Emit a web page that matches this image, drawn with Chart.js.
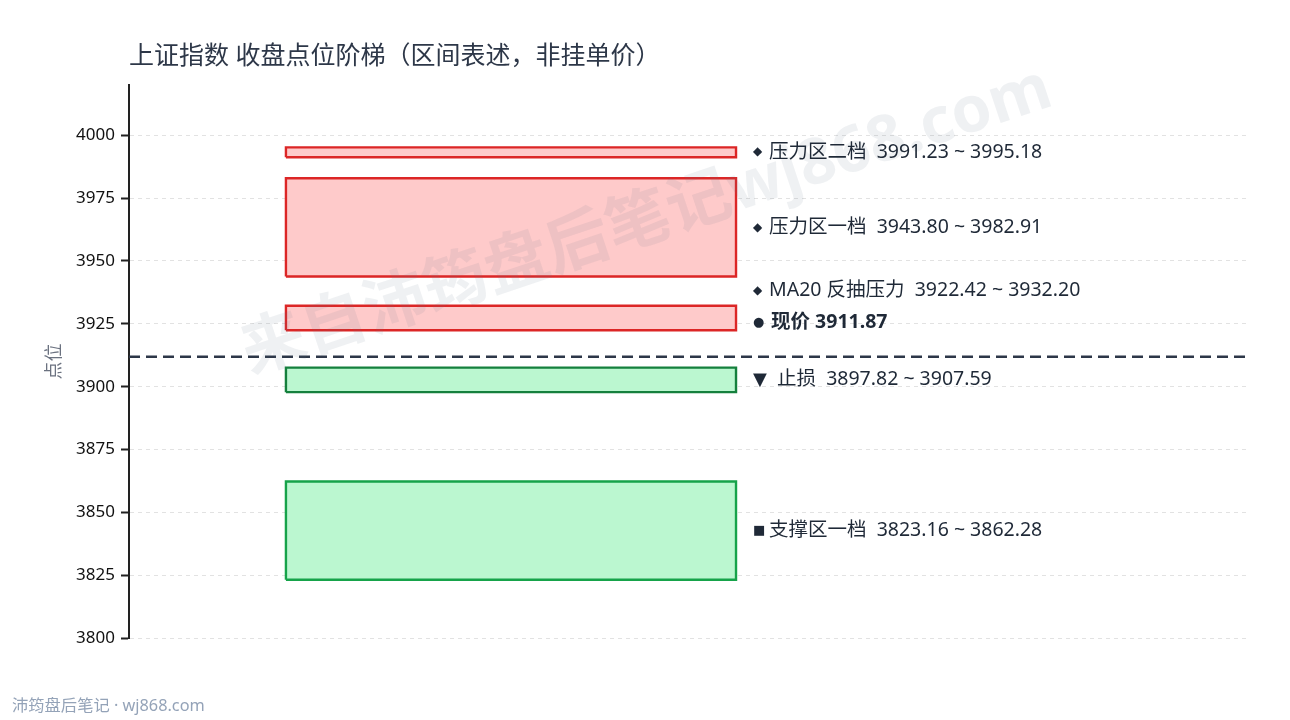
<!DOCTYPE html>
<html><head><meta charset="utf-8">
<script src="https://cdn.jsdelivr.net/npm/chart.js@4.4.1/dist/chart.umd.min.js"></script>
<style>html,body{margin:0;padding:0;background:#fff;}</style>
</head><body>
<canvas id="c" width="1290" height="720"></canvas>
<script>
// ---- data ----
const titleText = '上证指数 收盘点位阶梯（区间表述，非挂单价）';
const footerText = '沛筠盘后笔记 · wj868.com';
const watermarkText = '来自沛筠盘后笔记wj868.com';
const yAxisTitle = '点位';
const zoneNames = ['压力区二档', '压力区一档', 'MA20 反抽压力', '止损', '支撑区一档'];
const zoneLow  = [3991.23, 3943.80, 3922.42, 3897.82, 3823.16];
const zoneHigh = [3995.18, 3982.91, 3932.20, 3907.59, 3862.28];
const zoneKind = ['resist', 'resist', 'resist', 'stop', 'support'];
const zoneMarker = ['◆', '◆', '◆', '▼', '■'];
const currentLabel = '现价';
const currentPrice = 3911.87;
const yMin = 3800, yMax = 4020, yStep = 25, yTopTick = 4000;

// ---- styles ----
const FONT = '"Noto Sans", "Noto Sans CJK SC", sans-serif';
const BOX_X0 = 0.14, BOX_X1 = 0.5415;
const kindStyle = {
  resist:  {fill: '#fecaca', border: '#dc2626'},
  stop:    {fill: '#bbf7d0', border: '#15803d'},
  support: {fill: '#bbf7d0', border: '#16a34a'}
};
Chart.defaults.font.family = FONT;

const boxDatasets = zoneNames.map((name, i) => {
  const lo = zoneLow[i], hi = zoneHigh[i], st = kindStyle[zoneKind[i]];
  return {
    label: name,
    data: [{x: BOX_X0, y: lo}, {x: BOX_X1, y: lo}, {x: BOX_X1, y: hi}, {x: BOX_X0, y: hi}, {x: BOX_X0, y: lo}],
    fill: 'shape', backgroundColor: st.fill, borderColor: st.border, borderWidth: 2.4,
    pointRadius: 0, tension: 0, borderJoinStyle: 'miter'
  };
});
const priceDataset = {
  label: currentLabel,
  data: [{x: 0, y: currentPrice}, {x: 1, y: currentPrice}],
  borderColor: '#2d3748', borderWidth: 2.4, borderDash: [11, 6], pointRadius: 0, fill: false
};

const fmt = v => v.toFixed(2);

const watermarkPlugin = {
  id: 'watermark',
  afterDatasetsDraw(chart) {
    const ctx = chart.ctx;
    ctx.save();
    ctx.translate(647, 222);
    ctx.rotate(-18.5 * Math.PI / 180);
    ctx.font = 'bold 64px ' + FONT;
    ctx.fillStyle = 'rgba(100,116,139,0.10)';
    ctx.textAlign = 'center';
    ctx.textBaseline = 'middle';
    ctx.fillText(watermarkText, 0, 0);
    ctx.restore();
  }
};

const labelPlugin = {
  id: 'zoneLabels',
  afterDraw(chart) {
    const {ctx, scales: {x, y}} = chart;
    const lx = x.getPixelForValue(BOX_X1) + 17;
    const items = zoneNames.map((n, i) => ({
      marker: zoneMarker[i],
      text: n + '  ' + fmt(zoneLow[i]) + ' ~ ' + fmt(zoneHigh[i]),
      py: y.getPixelForValue((zoneLow[i] + zoneHigh[i]) / 2),
      bold: false
    }));
    items.push({marker: '●', text: currentLabel + ' ' + fmt(currentPrice), py: y.getPixelForValue(currentPrice) - 34, bold: true});
    items.sort((a, b) => b.py - a.py);
    for (let i = 1; i < items.length; i++) {
      if (items[i].py > items[i - 1].py - 32) items[i].py = items[i - 1].py - 32;
    }
    const mk = {'◆': {size: 12, tx: 16}, '●': {size: 13, tx: 18}, '▼': {size: 18, tx: 24}, '■': {size: 13, tx: 16}};
    ctx.save();
    ctx.textBaseline = 'middle';
    ctx.textAlign = 'left';
    ctx.fillStyle = '#1f2937';
    items.forEach(it => {
      const m = mk[it.marker];
      ctx.font = m.size + 'px "DejaVu Sans", sans-serif';
      ctx.fillText(it.marker, lx, it.py);
      ctx.font = (it.bold ? 'bold ' : '') + '19.5px ' + FONT;
      ctx.fillText(it.text, lx + m.tx, it.py);
    });
    ctx.restore();
  }
};

new Chart(document.getElementById('c'), {
  type: 'line',
  data: {datasets: [...boxDatasets, priceDataset]},
  options: {
    responsive: false, animation: false,
    layout: {padding: {left: 12, right: 40, top: 0, bottom: 4}},
    plugins: {
      legend: {display: false},
      tooltip: {enabled: false},
      title: {display: true, text: titleText, align: 'start', fullSize: false,
        color: '#2d3748', font: {size: 25, weight: 'normal', family: FONT}, padding: {top: 42, bottom: 13}},
      subtitle: {display: true, text: footerText, position: 'bottom', align: 'start', fullSize: true,
        color: '#94a3b8', font: {size: 16.3, weight: 'normal', family: FONT}, padding: {top: 58.4, bottom: 0}}
    },
    scales: {
      x: {type: 'linear', display: false, min: 0, max: 1},
      y: {
        type: 'linear', min: yMin, max: yMax,
        afterFit(s) { s.width = 117; },
        afterBuildTicks(s) { s.ticks = s.ticks.filter(t => t.value <= yTopTick && t.value % yStep === 0); },
        ticks: {stepSize: yStep, includeBounds: false, color: '#111', font: {size: 17}, padding: 6,
          callback: v => String(v)},
        grid: {color: '#e2e2e2', lineWidth: 1, tickColor: '#222', tickLength: 8, tickWidth: 2},
        border: {display: true, color: '#222', width: 2, dash: [4, 4]},
        title: {display: true, text: yAxisTitle, color: '#6b7280', font: {size: 18}, padding: {top: 32, bottom: 0}}
      }
    }
  },
  plugins: [watermarkPlugin, labelPlugin]
});
</script>
</body></html>
